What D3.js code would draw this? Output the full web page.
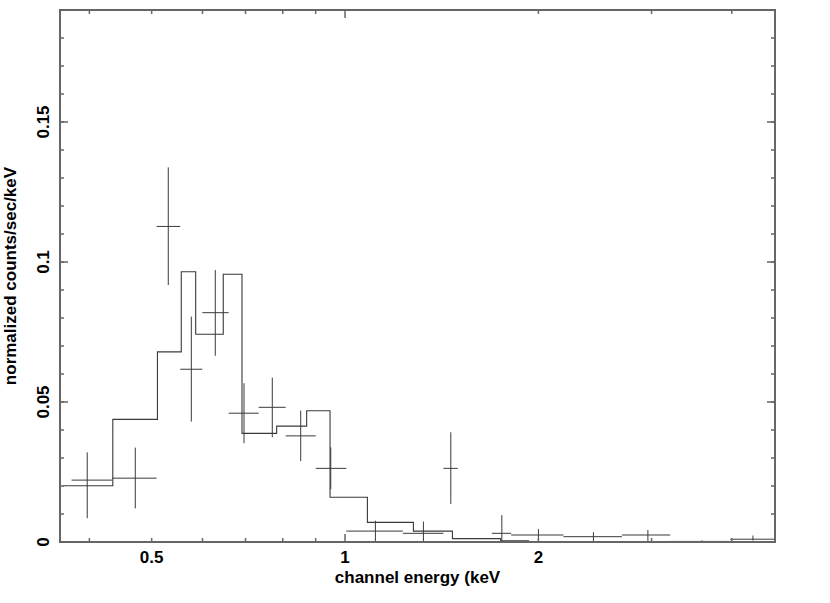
<!DOCTYPE html>
<html>
<head>
<meta charset="utf-8">
<script src="https://cdn.jsdelivr.net/npm/d3@7"></script>
<style>
  body { margin: 0; background: #fff; }
  svg text { font-family: "Liberation Sans", Arial, sans-serif; font-weight: bold; fill: #000; }
</style>
</head>
<body>
<div id="chart"></div>
<script>
// model histogram: bin edges (keV) and value per bin
const modelEdges = [0.364, 0.435, 0.5105, 0.556, 0.5855, 0.6463, 0.6912, 0.7827, 0.8715,
                    0.9477, 1.0835, 1.2777, 1.4695, 1.7467, 1.9297, 4.67];
const modelValues = [0.0201, 0.0438, 0.0679, 0.0965, 0.0742, 0.0956, 0.0388, 0.0414,
                     0.0469, 0.0160, 0.0070, 0.0039, 0.0012, 0.0004, 0.0001];

// data points: bin low / centre / high (keV), value, error bar bottom/top
const dataBinLo  = [0.3752, 0.4341, 0.509, 0.554, 0.5995, 0.659, 0.7338, 0.8084, 0.9002,
                    1.0048, 1.2302, 1.4228, 1.6925, 1.8137, 2.188, 2.6976, 3.208, 3.978];
const dataCenter = [0.3969, 0.4715, 0.5307, 0.5764, 0.6281, 0.6962, 0.7705, 0.8531, 0.9501,
                    1.115, 1.3244, 1.461, 1.7543, 2.0, 2.436, 2.961, 3.594, 4.315];
const dataBinHi  = [0.4341, 0.509, 0.554, 0.5995, 0.659, 0.7338, 0.8084, 0.9002, 1.0048,
                    1.2302, 1.4228, 1.4981, 1.8137, 2.188, 2.6976, 3.208, 3.978, 4.67];
const dataValue  = [0.0221, 0.0228, 0.1127, 0.0617, 0.0819, 0.0460, 0.0481, 0.0379, 0.0263,
                    0.0039, 0.0031, 0.0263, 0.0031, 0.0025, 0.0019, 0.0025, 0.0002, 0.0010];
const dataErrLo  = [0.0085, 0.0120, 0.0918, 0.0430, 0.0665, 0.0353, 0.0374, 0.0289, 0.0188,
                    -0.002, -0.002, 0.0136, -0.002, -0.002, -0.002, -0.002, -0.001, 0.0005];
const dataErrHi  = [0.0320, 0.0337, 0.1338, 0.0805, 0.0971, 0.0567, 0.0587, 0.0469, 0.0338,
                    0.0076, 0.0073, 0.0392, 0.0096, 0.0046, 0.0035, 0.0043, 0.0006, 0.0023];

const xLabelTicks = [0.5, 1, 2];
const xMajorTicks = [1];
const xMinorTicks = [0.4, 0.5, 0.6, 0.7, 0.8, 0.9, 2, 3, 4];
const yMajorTicks = [0, 0.05, 0.1, 0.15];
const yMinorTicks = d3.range(0, 0.1901, 0.01);

const W = 830, H = 603;
const margin = { top: 10, right: 55, bottom: 61, left: 60 };
const width = W - margin.left - margin.right;
const height = H - margin.top - margin.bottom;

const svg = d3.select('#chart').append('svg')
    .attr('width', W).attr('height', H);

const g = svg.append('g')
    .attr('transform', `translate(${margin.left},${margin.top})`);

const x = d3.scaleLog().domain([0.36, 4.67]).range([0, width]);
const y = d3.scaleLinear().domain([0, 0.19]).range([height, 0]);

g.append('clipPath').attr('id', 'clip')
    .append('rect').attr('width', width).attr('height', height);

const plot = g.append('g').attr('clip-path', 'url(#clip)');
const lineCol = '#3a3a3a';

// model step line
const stepPts = [];
modelValues.forEach((v, i) => {
    stepPts.push([modelEdges[i], v]);
    stepPts.push([modelEdges[i + 1], v]);
});
plot.append('path')
    .datum(stepPts)
    .attr('fill', 'none')
    .attr('stroke', lineCol)
    .attr('stroke-width', 1.1)
    .attr('d', d3.line().x(d => x(d[0])).y(d => y(d[1])));

// data crosses
const pts = dataValue.map((v, i) => ({
    lo: dataBinLo[i], c: dataCenter[i], hi: dataBinHi[i], v, eLo: dataErrLo[i], eHi: dataErrHi[i]
}));
plot.selectAll('.hbar').data(pts).join('line')
    .attr('class', 'hbar')
    .attr('x1', d => x(d.lo)).attr('x2', d => x(d.hi))
    .attr('y1', d => y(d.v)).attr('y2', d => y(d.v))
    .attr('stroke', lineCol).attr('stroke-width', 1);
plot.selectAll('.vbar').data(pts).join('line')
    .attr('class', 'vbar')
    .attr('x1', d => x(d.c)).attr('x2', d => x(d.c))
    .attr('y1', d => y(d.eLo)).attr('y2', d => y(d.eHi))
    .attr('stroke', lineCol).attr('stroke-width', 1);

// frame and ticks
const axCol = '#666';
g.append('rect')
    .attr('width', width).attr('height', height)
    .attr('fill', 'none').attr('stroke', axCol).attr('stroke-width', 2);

const ticks = g.append('g').attr('stroke', axCol).attr('stroke-width', 1.5);
function hTick(v, len) {
    ticks.append('line').attr('x1', 0).attr('x2', len).attr('y1', y(v)).attr('y2', y(v));
    ticks.append('line').attr('x1', width).attr('x2', width - len).attr('y1', y(v)).attr('y2', y(v));
}
yMinorTicks.forEach(v => hTick(v, 4));
yMajorTicks.forEach(v => hTick(v, 8));
function vTick(v, len) {
    ticks.append('line').attr('x1', x(v)).attr('x2', x(v)).attr('y1', height).attr('y2', height - len);
    ticks.append('line').attr('x1', x(v)).attr('x2', x(v)).attr('y1', 0).attr('y2', len);
}
xMinorTicks.forEach(v => vTick(v, 4));
xMajorTicks.forEach(v => vTick(v, 8));

// tick labels
g.selectAll('.xl').data(xLabelTicks).join('text')
    .attr('class', 'xl')
    .attr('x', d => x(d)).attr('y', height + 21)
    .attr('text-anchor', 'middle').attr('font-size', '17px')
    .text(d => d);
g.selectAll('.yl').data(yMajorTicks).join('text')
    .attr('class', 'yl')
    .attr('transform', d => `translate(-11,${y(d)}) rotate(-90)`)
    .attr('text-anchor', 'middle').attr('font-size', '17px')
    .text(d => d);

// axis titles
g.append('text')
    .attr('x', width / 2).attr('y', height + 41)
    .attr('text-anchor', 'middle').attr('font-size', '17px')
    .text('channel energy (keV');
g.append('text')
    .attr('transform', `translate(-44,${height / 2}) rotate(-90)`)
    .attr('text-anchor', 'middle').attr('font-size', '17px')
    .text('normalized counts/sec/keV');
</script>
</body>
</html>
